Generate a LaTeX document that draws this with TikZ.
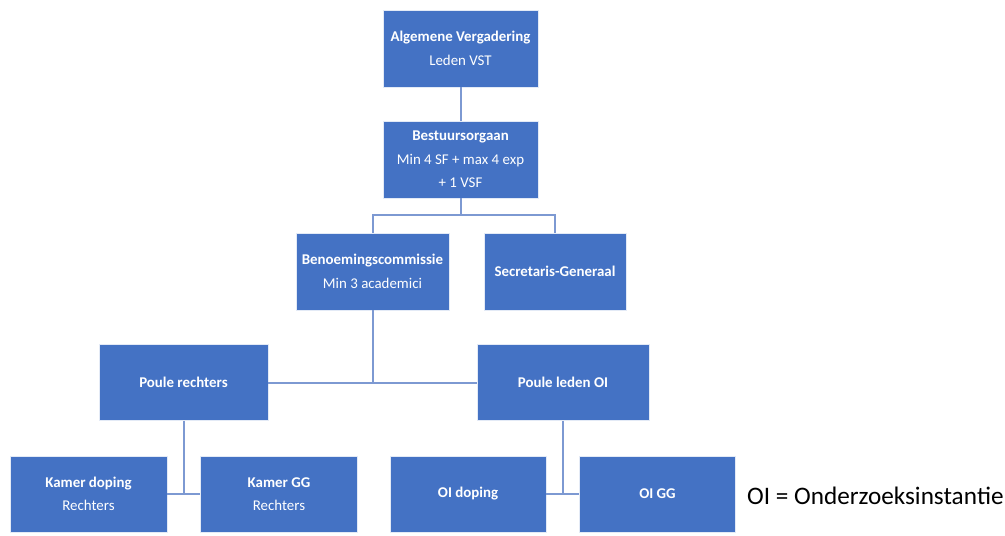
\documentclass[tikz,border=0pt]{standalone}
\usepackage{fontspec}
\setmainfont{Carlito}
\definecolor{boxblue}{RGB}{68,114,196}
\definecolor{lineblue}{RGB}{125,153,210}
\begin{document}
\begin{tikzpicture}[x=1pt,y=-1pt,
  orgbox/.style={draw=white!85!boxblue, line width=0.6pt, fill=boxblue, text=white, align=center,
    inner sep=0pt, font=\fontsize{14.9}{23.5}\selectfont},
  link/.style={draw=lineblue, line width=2pt}]
\useasboundingbox (0,0) rectangle (1005,536);
\node[orgbox, minimum width=155, minimum height=77] (AV) at (460.5,48.5) {\textbf{Algemene Vergadering}\\Leden VST};
\node[orgbox, minimum width=155, minimum height=77] (BO) at (460.5,159.5) {\textbf{Bestuursorgaan}\\Min 4 SF + max 4 exp\\+ 1 VSF};
\node[orgbox, minimum width=153, minimum height=77] (BC) at (372.5,271.5) {\textbf{Benoemingscommissie}\\Min 3 academici};
\node[orgbox, minimum width=142, minimum height=77] (SG) at (555,271.5) {\textbf{Secretaris-Generaal}};
\node[orgbox, minimum width=169, minimum height=76] (PR) at (183.5,382.5) {\textbf{Poule rechters}};
\node[orgbox, minimum width=172, minimum height=76] (PO) at (563,382.5) {\textbf{Poule leden OI}};
\node[orgbox, minimum width=157, minimum height=76] (KD) at (88.5,494) {\textbf{Kamer doping}\\Rechters};
\node[orgbox, minimum width=157, minimum height=76] (KG) at (279,494) {\textbf{Kamer GG}\\Rechters};
\node[orgbox, minimum width=156, minimum height=76] (OD) at (468,494) {\textbf{OI doping}};
\node[orgbox, minimum width=156, minimum height=76] (OG) at (657.5,494) {\textbf{OI GG}};
\node[anchor=west, inner sep=0pt, font=\fontsize{25.2}{28}\selectfont] (legend) at (747,496) {OI = Onderzoeksinstan\kern0pt tie};
\draw[link] (AV.south) -- (BO.north);
\draw[link] (BO.south) -- ++(0,17) -| (BC.north);
\draw[link] (BO.south) -- ++(0,17) -| (SG.north);
\draw[link] (BC.south) -- (BC.south |- PR.east);
\draw[link] (PR.east) -- (PO.west);
\draw[link] (PR.south) -- (PR.south |- KD.east);
\draw[link] (KD.east) -- (KG.west);
\draw[link] (PO.south) -- (PO.south |- OD.east);
\draw[link] (OD.east) -- (OG.west);
\end{tikzpicture}
\end{document}
